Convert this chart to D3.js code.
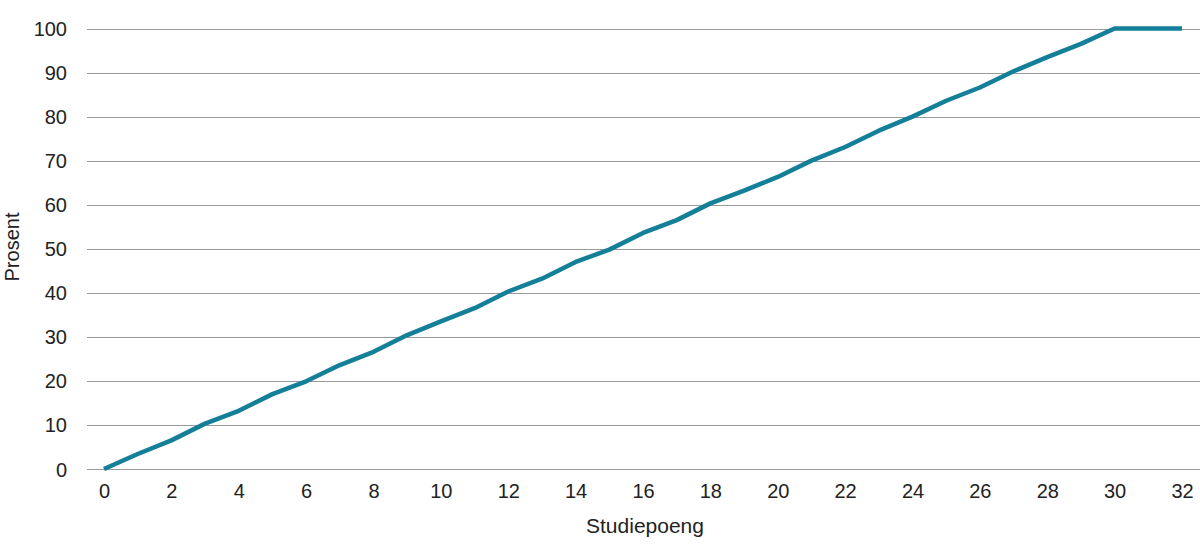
<!DOCTYPE html>
<html><head><meta charset="utf-8">
<script src="https://cdn.jsdelivr.net/npm/d3@7"></script>
<style>body{margin:0;background:#fff}svg{display:block}text{font-family:"Liberation Sans",Arial,sans-serif;fill:#222}</style>
</head><body><svg id="c" width="1200" height="555"></svg>
<script>
const studiepoeng = [0,1,2,3,4,5,6,7,8,9,10,11,12,13,14,15,16,17,18,19,20,21,22,23,24,25,26,27,28,29,30,31,32];
const prosent = [0,3.4,6.5,10.3,13.2,17,19.9,23.6,26.6,30.4,33.5,36.5,40.3,43.2,47,49.8,53.6,56.5,60.3,63.2,66.3,70,73.1,76.8,80,83.6,86.6,90.3,93.5,96.5,100,100,100];
const xTicks = [0,2,4,6,8,10,12,14,16,18,20,22,24,26,28,30,32];
const yTicks = [0,10,20,30,40,50,60,70,80,90,100];
const xTitle = "Studiepoeng", yTitle = "Prosent";

const svg = d3.select("#c");
const x = d3.scaleLinear().domain([0,32]).range([104,1182]);
const y = d3.scaleLinear().domain([0,100]).range([469,28.5]);

const g = svg.append("g");
g.selectAll("line.grid").data(yTicks).join("line")
  .attr("x1",87).attr("x2",1200)
  .attr("y1",d=>Math.round(y(d))+0.5).attr("y2",d=>Math.round(y(d))+0.5)
  .attr("stroke","#9a9a9a").attr("stroke-width",1.2);

const yAxis = svg.append("g").attr("transform","translate(87,0)")
  .call(d3.axisLeft(y).tickValues(yTicks).tickSize(0).tickPadding(20));
yAxis.select(".domain").remove();
yAxis.selectAll("text").style("font-size","20px").attr("fill","#222").attr("dy","0.35em");

const xAxis = svg.append("g").attr("transform","translate(0,469)")
  .call(d3.axisBottom(x).tickValues(xTicks).tickSize(0).tickPadding(15));
xAxis.select(".domain").remove();
xAxis.selectAll("text").style("font-size","20px").attr("fill","#222");

svg.append("text").attr("x",645).attr("y",533).attr("text-anchor","middle")
  .style("font-size","21px").text(xTitle);
svg.append("text").attr("transform","translate(19,247) rotate(-90)").attr("text-anchor","middle")
  .style("font-size","20px").text(yTitle);

const line = d3.line().x((d,i)=>x(studiepoeng[i])).y(d=>y(d));
svg.append("path").datum(prosent).attr("d",line)
  .attr("fill","none").attr("stroke","#137f99").attr("stroke-width",4.5)
  .attr("stroke-linejoin","round").attr("stroke-linecap","butt");
</script></body></html>
